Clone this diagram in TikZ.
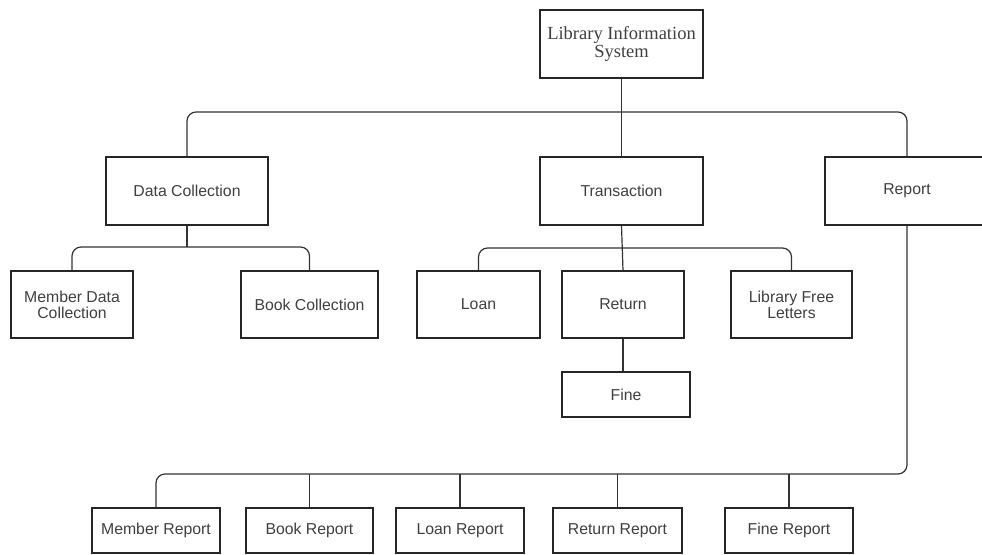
\documentclass[tikz,border=0pt]{standalone}
\usepackage{fontspec}
\setmainfont{Liberation Serif}
\setsansfont{Liberation Sans}
\usetikzlibrary{positioning,calc}

\tikzset{
  box/.style={draw=black!85, line width=1.2pt, fill=white, text=black!75,
    font=\sffamily\fontsize{15.8}{16}\selectfont, align=center,
    minimum height=68pt, inner sep=2pt},
  link/.style={draw=black!80, line width=1.2pt},
  elbow/.style={link, rounded corners=9pt}
}

\begin{document}
\begin{tikzpicture}[x=1pt, y=-1pt]
    \useasboundingbox (0,0) rectangle (982,554);
    \fill[white] (0,0) rectangle (982,554);

    % Top level
    \node[box, font=\rmfamily\fontsize{18.5}{18}\selectfont, minimum width=163pt]
        (root) at (621.5,44) {Library Information\\System};

    % Main modules
    \node[box, minimum width=162pt] (dc) at (187,191) {Data Collection};
    \node[box, minimum width=163pt] (trans) at (621.5,191) {Transaction};
    \node[box, minimum width=164pt] (rep) at (907,191) {Report};

    % Data collection parts
    \node[box, minimum width=122pt, minimum height=67pt] (mdc) at (72,304.5) {Member Data\\Collection};
    \node[box, minimum width=137pt, minimum height=67pt] (bc) at (309.5,304.5) {Book Collection};

    % Transaction parts
    \node[box, minimum width=123pt, minimum height=67pt] (loan) at (478.5,304.5) {Loan};
    \node[box, minimum width=122pt, minimum height=67pt] (ret) at (623,304.5) {Return};
    \node[box, minimum width=121pt, minimum height=67pt] (lfl) at (791.5,304.5) {Library Free\\Letters};
    \node[box, minimum width=128pt, minimum height=45pt] (fine) at (626,394.5) {Fine};

    % Reports
    \node[box, minimum width=128pt, minimum height=45pt] (mr) at (156,530.5) {Member Report};
    \node[box, minimum width=127pt, minimum height=45pt] (br) at (309.5,530.5) {Book Report};
    \node[box, minimum width=128pt, minimum height=45pt] (lr) at (460,530.5) {Loan Report};
    \node[box, minimum width=129pt, minimum height=45pt] (rr) at (617.5,530.5) {Return Report};
    \node[box, minimum width=128pt, minimum height=45pt] (fr) at (789,530.5) {Fine Report};

    % Bus lines
    \coordinate (topbus) at (0,112);
    \coordinate (dcbus) at (0,247);
    \coordinate (trbus) at (0,248);
    \coordinate (repbus) at (0,474);

    \draw[link] (root.south) -- (trans.north);
    \draw[elbow] (dc.north) |- (topbus -| rep.north) -- (rep.north);

    \draw[link] (dc.south) -- (dc.south |- dcbus);
    \draw[elbow] (mdc.north) |- (dcbus -| bc.north) -- (bc.north);

    \draw[elbow] (loan.north) |- (trbus -| lfl.north) -- (lfl.north);
    \draw[link] (trans.south) -- (ret.north);
    \draw[link] (ret.south) -- (ret.south |- fine.north);

    \draw[elbow] (rep.south) |- (repbus -| mr.north) -- (mr.north);
    \foreach \n in {br,lr,rr,fr}
        \draw[link] (\n.north) -- (\n.north |- repbus);
\end{tikzpicture}
\end{document}
